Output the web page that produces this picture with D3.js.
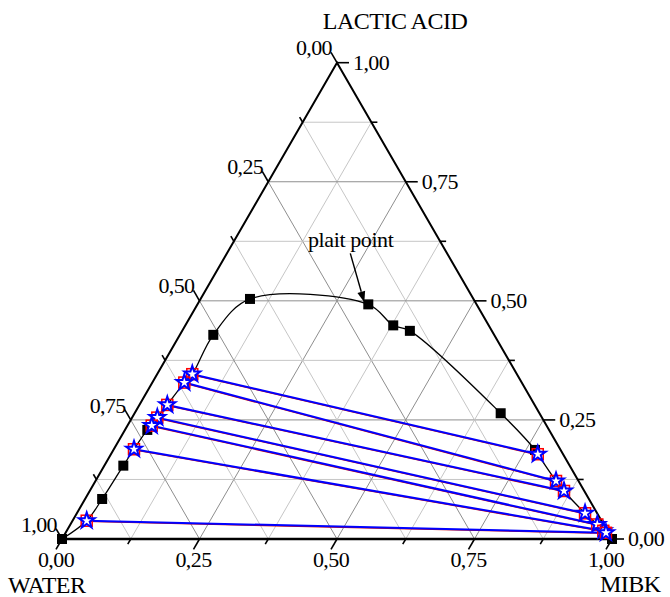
<!DOCTYPE html>
<html><head><meta charset="utf-8">
<script src="https://cdn.jsdelivr.net/npm/d3@7"></script>
<style>
body{margin:0;background:#fff}
svg{display:block}
</style>
</head><body>
<svg id="chart" width="670" height="597" font-family="'Liberation Serif', 'DejaVu Serif', serif"></svg>
<script>
// Corner components of the ternary diagram
const cornerNames = ["WATER", "MIBK", "LACTIC ACID"];

// Axis ticks (mass fractions) and their labels
const majorTicks = [0, 0.25, 0.5, 0.75, 1];
const minorTicks = [0.125, 0.375, 0.625, 0.875];
const tickLabels = ["0,00", "0,25", "0,50", "0,75", "1,00"];
const gridFractions = [0.125, 0.25, 0.375, 0.5, 0.625, 0.75, 0.875];

// Binodal curve points: MIBK and lactic acid mass fractions (water = remainder)
const binodalMibk   = [0.000, 0.031, 0.0345, 0.0406, 0.0608, 0.0898, 0.3106, 0.378, 0.414, 0.6656, 0.7665, 1.000];
const binodalLactic = [0.000, 0.084, 0.154, 0.229, 0.4286, 0.504, 0.4926, 0.4485, 0.437, 0.264, 0.187, 0.000];
const plaitIndex = 6;

// Tie lines: raffinate (water-rich) and extract (MIBK-rich) phase compositions
const raffMibk   = [0.0639, 0.0582, 0.0507, 0.0459, 0.0441, 0.0367, 0.0257];
const raffLactic = [0.346, 0.3284, 0.2815, 0.2548, 0.238, 0.1884, 0.0384];
const extrMibk   = [0.776, 0.8373, 0.8623, 0.924, 0.958, 0.9756, 0.9825];
const extrLactic = [0.178, 0.1218, 0.1008, 0.054, 0.0305, 0.0172, 0.013];

const svg = d3.select("#chart");
const H = Math.sqrt(3) / 2;
const FONT = "'Liberation Serif', 'DejaVu Serif', serif";

// Cartesian scales for the equilateral triangle
const xs = d3.scaleLinear().domain([0, 1]).range([62, 612]);
const ys = d3.scaleLinear().domain([0, H]).range([539, 539 - 550 * H]);

// (MIBK, lactic) -> pixel position
const P = (m, c) => [xs(m + c / 2), ys(c * H)];

// Grid
const gridG = svg.append("g");
gridFractions.forEach(f => {
  const major = Math.abs(f * 4 - Math.round(f * 4)) < 1e-9;
  const col = major ? "#8e8e8e" : "#c6c6c6";
  const segs = [
    [P(0, f), P(1 - f, f)],          // constant lactic acid
    [P(f, 0), P(f, 1 - f)],          // constant MIBK
    [P(1 - f, 0), P(0, 1 - f)]       // constant water
  ];
  segs.forEach(([a, b]) => {
    gridG.append("line")
      .attr("x1", a[0]).attr("y1", a[1]).attr("x2", b[0]).attr("y2", b[1])
      .attr("stroke", col).attr("stroke-width", 1);
  });
});

// Triangle frame
const W = P(0, 0), M = P(1, 0), L = P(0, 1);
svg.append("path")
  .attr("d", `M${W}L${M}L${L}Z`)
  .attr("fill", "none").attr("stroke", "#000").attr("stroke-width", 2)
  .attr("stroke-linejoin", "miter");
svg.append("line").attr("x1", W[0]).attr("y1", W[1]).attr("x2", M[0]).attr("y2", M[1])
  .attr("stroke", "#000").attr("stroke-width", 2.6);

// Ticks and tick labels
const axG = svg.append("g");
const label = (x, y, txt, anchor) => axG.append("text")
  .attr("x", x).attr("y", y).attr("text-anchor", anchor)
  .attr("font-family", FONT).attr("font-size", 22).attr("letter-spacing", -0.6)
  .attr("fill", "#000").text(txt);
const dl = [-0.5, H];     // bottom axis: outward down-left
const ul = [-0.5, -H];    // left axis: outward up-left
const rt = [1, 0];        // right axis: outward right
function tick(p, d, len) {
  axG.append("line")
    .attr("x1", p[0]).attr("y1", p[1])
    .attr("x2", p[0] + d[0] * len).attr("y2", p[1] + d[1] * len)
    .attr("stroke", "#000").attr("stroke-width", 1.6);
  return [p[0] + d[0] * len, p[1] + d[1] * len];
}
const maj = 12, mnr = 6;
majorTicks.forEach((t, i) => {
  let e = tick(P(t, 0), dl, maj);              // bottom: MIBK
  label(e[0], e[1] + 17.5, tickLabels[i], "middle");
  e = tick(P(1 - t, t), rt, maj);              // right: lactic acid
  label(e[0] + 4, e[1] + 7, tickLabels[i], "start");
  e = tick(P(0, 1 - t), ul, maj);              // left: water
  label(e[0] + 1, e[1] + 3, tickLabels[i], "end");
});
minorTicks.forEach(t => {
  tick(P(t, 0), dl, mnr);
  tick(P(1 - t, t), rt, mnr);
  tick(P(0, 1 - t), ul, mnr);
});

// Corner titles
const title = (x, y, txt, anchor) => svg.append("text")
  .attr("x", x).attr("y", y).attr("text-anchor", anchor)
  .attr("font-family", FONT).attr("font-size", 24).attr("letter-spacing", -0.5)
  .attr("fill", "#000").text(txt);
title(395, 29, cornerNames[2], "middle");
title(8, 593, cornerNames[0], "start");
title(600, 592, cornerNames[1], "start");

// Binodal curve through binodal points and tie-line ends
const pts = [];
binodalMibk.forEach((m, i) => pts.push([m, binodalLactic[i]]));
raffMibk.forEach((m, i) => pts.push([m, raffLactic[i]]));
extrMibk.forEach((m, i) => pts.push([m, extrLactic[i]]));
const pm = binodalMibk[plaitIndex], pc = binodalLactic[plaitIndex];
const left = pts.filter(p => p[0] < pm).sort((a, b) => a[1] - b[1]);
const right = pts.filter(p => p[0] > pm).sort((a, b) => b[1] - a[1]);
const ordered = [...left, [pm, pc], ...right];
svg.append("path")
  .attr("d", d3.line().curve(d3.curveCatmullRom.alpha(0.5))(ordered.map(p => P(p[0], p[1]))))
  .attr("fill", "none").attr("stroke", "#000").attr("stroke-width", 1.3);

// Tie lines
const tieG = svg.append("g");
raffMibk.forEach((m, i) => {
  const a = P(m, raffLactic[i]), b = P(extrMibk[i], extrLactic[i]);
  tieG.append("line").attr("x1", a[0]).attr("y1", a[1] + 0.6).attr("x2", b[0]).attr("y2", b[1] + 0.6)
    .attr("stroke", "#d00000").attr("stroke-width", 1.4);
  tieG.append("line").attr("x1", a[0]).attr("y1", a[1]).attr("x2", b[0]).attr("y2", b[1])
    .attr("stroke", "#0000ff").attr("stroke-width", 2);
});

// Binodal markers
const sq = 10;
svg.append("g").selectAll("rect").data(binodalMibk.map((m, i) => P(m, binodalLactic[i])))
  .join("rect")
  .attr("x", d => d[0] - sq / 2).attr("y", d => d[1] - sq / 2)
  .attr("width", sq).attr("height", sq).attr("fill", "#000");

// Tie-line end markers: red square with a blue-outlined star
const star = d3.symbol().type(d3.symbolStar).size(78);
const ends = [
  ...raffMibk.map((m, i) => P(m, raffLactic[i])),
  ...extrMibk.map((m, i) => P(m, extrLactic[i]))
];
const mk = svg.append("g").selectAll("g").data(ends).join("g")
  .attr("transform", d => `translate(${d[0]},${d[1]})`);
mk.append("rect").attr("x", -5.5).attr("y", -5.5).attr("width", 11).attr("height", 11)
  .attr("fill", "none").attr("stroke", "#ff0000").attr("stroke-width", 1.5);
mk.append("path").attr("d", star).attr("fill", "#ffffff")
  .attr("stroke", "#0000ff").attr("stroke-width", 2);

// Plait point annotation
const pp = P(pm, pc);
const tip = [pp[0] - 4, pp[1] - 2];
const tail = [tip[0] - 14, tip[1] - 49];
const ang = Math.atan2(tip[1] - tail[1], tip[0] - tail[0]);
const hl = 11, hw = 4;
const base = [tip[0] - hl * Math.cos(ang), tip[1] - hl * Math.sin(ang)];
svg.append("line").attr("x1", tail[0]).attr("y1", tail[1]).attr("x2", base[0]).attr("y2", base[1])
  .attr("stroke", "#000").attr("stroke-width", 1.4);
svg.append("path")
  .attr("d", `M${tip}L${base[0] + hw * Math.sin(ang)},${base[1] - hw * Math.cos(ang)}L${base[0] - hw * Math.sin(ang)},${base[1] + hw * Math.cos(ang)}Z`)
  .attr("fill", "#000");
svg.append("text").attr("x", 308).attr("y", 246.5)
  .attr("font-family", FONT).attr("font-size", 22).attr("letter-spacing", -0.4)
  .attr("fill", "#000").text("plait point");
</script>
</body></html>
